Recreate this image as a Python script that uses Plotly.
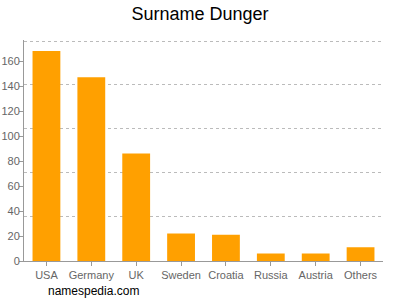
import plotly.graph_objects as go

countries = ["USA", "Germany", "UK", "Sweden", "Croatia", "Russia", "Austria", "Others"]
counts = [168, 147, 86, 22, 21, 6, 6, 11]
y_ticks = [0, 20, 40, 60, 80, 100, 120, 140, 160]
y_max = 176.8
grid_vals = [y_max * k / 5 - (0.9 if k == 5 else 0) for k in range(1, 6)]

fig = go.Figure()
fig.add_trace(go.Bar(x=countries, y=counts, marker=dict(color="#FFA000", line=dict(width=0)),
                     hoverinfo="skip"))
fig.add_trace(go.Scatter(x=countries, y=counts, yaxis="y2", mode="markers",
                         marker=dict(opacity=0), hoverinfo="skip", showlegend=False))

fig.update_layout(
    width=400, height=300,
    margin=dict(l=24, r=17, t=40, b=39, autoexpand=False),
    paper_bgcolor="white", plot_bgcolor="white",
    showlegend=False,
    bargap=0.38,
    title=dict(text="Surname Dunger", x=0.5, xanchor="center", y=0.955, yanchor="middle",
               font=dict(family="Liberation Sans, Arial", size=18, color="black")),
    xaxis=dict(showline=True, linecolor="#999", linewidth=1, ticks="outside", ticklen=4,
               tickcolor="#999", automargin=False,
               tickfont=dict(family="Liberation Sans, Arial", size=11, color="#666"),
               showgrid=False),
    yaxis=dict(range=[0, y_max], tickvals=y_ticks, showline=True, linecolor="#999", linewidth=1,
               ticks="outside", ticklen=4, tickcolor="#999", showgrid=False, zeroline=False,
               automargin=False, ticklabelstandoff=-3,
               tickfont=dict(family="Liberation Sans, Arial", size=11, color="#666")),
    yaxis2=dict(range=[0, y_max], overlaying="y", side="right", tickvals=grid_vals,
                showticklabels=False, ticks="", showgrid=True, gridcolor="#bbb",
                griddash="3px,3px", gridwidth=1, zeroline=False, showline=False, automargin=False),
    annotations=[dict(text="namespedia.com", xref="paper", yref="paper", x=0.06, y=-0.135,
                      xanchor="left", yanchor="middle", showarrow=False,
                      font=dict(family="Liberation Sans, Arial", size=12, color="black"))],
)

fig.write_html("out.html")
